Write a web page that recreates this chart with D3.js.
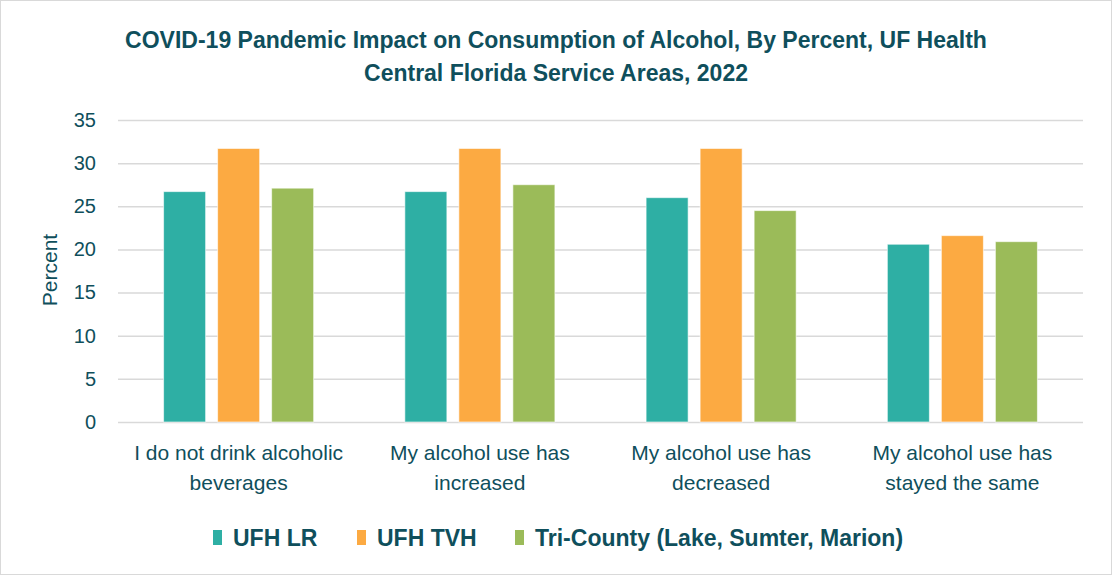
<!DOCTYPE html>
<html>
<head>
<meta charset="utf-8">
<script src="https://cdn.jsdelivr.net/npm/d3@7"></script>
<style>
  body { margin: 0; background: #fff; }
  svg { display: block; }
  text { font-family: "Liberation Sans", sans-serif; fill: #0f4f5c; }
</style>
</head>
<body>
<svg id="chart" width="1112" height="575"></svg>
<script>
// data
const categories = [
    ["I do not drink alcoholic", "beverages"],
    ["My alcohol use has", "increased"],
    ["My alcohol use has", "decreased"],
    ["My alcohol use has", "stayed the same"]
];
const seriesNames = ["UFH LR", "UFH TVH", "Tri-County (Lake, Sumter, Marion)"];
const seriesColors = ["#2eafa4", "#fcaa42", "#9bbb59"];
const lrValues = [26.7, 26.7, 26.0, 20.6];
const tvhValues = [31.7, 31.7, 31.7, 21.6];
const triValues = [27.1, 27.5, 24.5, 20.9];
const yTicks = [0, 5, 10, 15, 20, 25, 30, 35];
const titleLines = [
    "COVID-19 Pandemic Impact on Consumption of Alcohol, By Percent, UF Health",
    "Central Florida Service Areas, 2022"
];

const layout = {
    width: 1112, height: 575,
    plotLeft: 118, plotRight: 1083,
    plotTop: 120, plotBottom: 422
};

const svg = d3.select("#chart");

// outer frame
svg.append("rect")
    .attr("x", 0.5).attr("y", 0.5)
    .attr("width", layout.width - 1).attr("height", layout.height - 1)
    .attr("fill", "#fff")
    .attr("stroke", "#d9d9d9");

// title
svg.append("g").selectAll("text").data(titleLines).enter()
    .append("text")
    .attr("x", 556)
    .attr("y", (d, i) => 48 + i * 33)
    .attr("text-anchor", "middle")
    .style("font-size", "23px")
    .style("font-weight", "bold")
    .text(d => d);

let y = d3.scaleLinear().domain([0, 35]).range([layout.plotBottom, layout.plotTop]);
let catIdx = d3.range(categories.length);
let x0 = d3.scaleBand().domain(catIdx).range([layout.plotLeft, layout.plotRight]).padding(0);
let groupWidth = x0.bandwidth() * 0.622;
let x1 = d3.scaleBand().domain(d3.range(seriesNames.length)).range([0, groupWidth]).paddingInner(0.222);

// gridlines
let grid = d3.axisLeft(y).tickValues(yTicks).tickSize(-(layout.plotRight - layout.plotLeft)).tickFormat("");
let gridG = svg.append("g")
    .attr("transform", "translate(" + layout.plotLeft + ",0)")
    .call(grid);
gridG.select(".domain").remove();
gridG.selectAll("line").attr("stroke", "#d9d9d9").attr("stroke-width", 1.5);

// y tick labels
let yAxis = d3.axisLeft(y).tickValues(yTicks).tickSize(0).tickPadding(0);
let yG = svg.append("g")
    .attr("transform", "translate(96,0)")
    .call(yAxis);
yG.select(".domain").remove();
yG.selectAll("text")
    .style("font-size", "20px")
    .attr("fill", "#0f4f5c")
    .attr("font-family", null);

// y axis title
svg.append("text")
    .attr("transform", "translate(57,270) rotate(-90)")
    .attr("text-anchor", "middle")
    .style("font-size", "21px")
    .text("Percent");

// bars
const seriesValues = [lrValues, tvhValues, triValues];
let barGroups = svg.append("g").selectAll("g").data(catIdx).enter()
    .append("g")
    .attr("transform", i => "translate(" + (x0(i) + (x0.bandwidth() - groupWidth) / 2) + ",0)");
barGroups.selectAll("rect")
    .data(i => seriesValues.map((vals, s) => ({ s: s, v: vals[i] })))
    .enter().append("rect")
    .attr("x", d => x1(d.s))
    .attr("y", d => y(d.v))
    .attr("width", x1.bandwidth())
    .attr("height", d => y(0) - y(d.v))
    .attr("fill", d => seriesColors[d.s])
    .attr("stroke", "rgba(255,255,255,0.6)")
    .attr("stroke-width", 1);

// category labels
let catG = svg.append("g").selectAll("text").data(catIdx).enter()
    .append("text")
    .attr("text-anchor", "middle")
    .style("font-size", "21px");
catG.selectAll("tspan")
    .data(i => categories[i].map(t => ({ t: t, i: i })))
    .enter().append("tspan")
    .attr("x", d => x0(d.i) + x0.bandwidth() / 2)
    .attr("y", (d, j) => 460 + j * 30)
    .text(d => d.t);

// legend
const legendX = [213, 357, 515];
let legend = svg.append("g").selectAll("g").data(seriesNames).enter()
    .append("g")
    .attr("transform", (d, i) => "translate(" + legendX[i] + ",530)");
legend.append("rect")
    .attr("width", 9).attr("height", 15)
    .attr("fill", (d, i) => seriesColors[i]);
legend.append("text")
    .attr("x", 20).attr("y", 16)
    .style("font-size", "23px")
    .style("font-weight", "bold")
    .text(d => d);
</script>
</body>
</html>
